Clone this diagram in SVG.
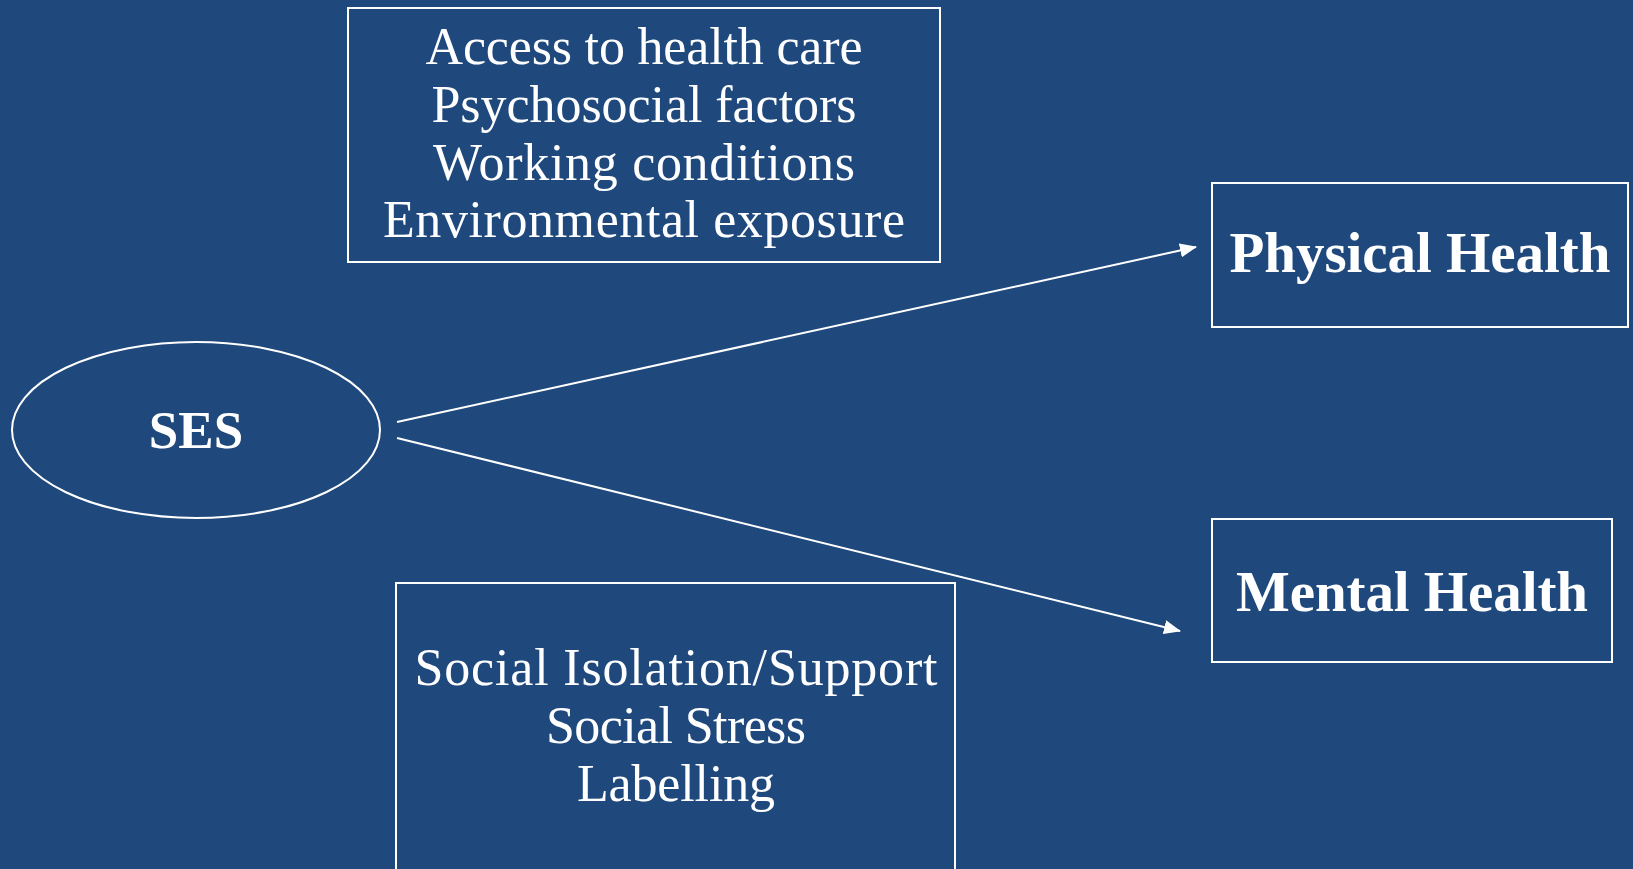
<svg xmlns="http://www.w3.org/2000/svg" width="1633" height="869" viewBox="0 0 1633 869">
<style>
.box{fill:none;stroke:#ffffff;stroke-width:2}
.t{font-family:"Liberation Serif","Times New Roman",serif;font-size:52px;fill:#ffffff;text-anchor:middle}
.b{font-family:"Liberation Serif","Times New Roman",serif;font-size:57px;font-weight:bold;fill:#ffffff;text-anchor:middle}
.s{font-size:53px}
.c{stroke:#ffffff;stroke-width:2;fill:none}
</style>
<defs>
<marker id="ah" markerUnits="userSpaceOnUse" markerWidth="17" markerHeight="14" refX="16" refY="7" orient="auto">
<path d="M0,0 L17,7 L0,14 Z" fill="#ffffff"/>
</marker>
</defs>
<rect width="1633" height="869" fill="#1F497D"/>
<g id="connectors">
<line class="c" x1="397" y1="422" x2="1196" y2="247" marker-end="url(#ah)"/>
<line class="c" x1="397" y1="438" x2="1180" y2="631" marker-end="url(#ah)"/>
</g>
<g id="factors-top">
<rect class="box" x="348" y="8" width="592" height="254"/>
<text class="t" x="644" y="64" textLength="437">Access to health care</text>
<text class="t" x="644" y="122" textLength="425">Psychosocial factors</text>
<text class="t" x="644" y="180" textLength="422">Working conditions</text>
<text class="t" x="644" y="237" textLength="522">Environmental exposure</text>
</g>
<g id="ses">
<ellipse class="box" cx="196" cy="430" rx="184" ry="88"/>
<text class="b s" x="196" y="448">SES</text>
</g>
<g id="physical-health">
<rect class="box" x="1212" y="183" width="416" height="144"/>
<text class="b" x="1420" y="272" textLength="381">Physical Health</text>
</g>
<g id="mental-health">
<rect class="box" x="1212" y="519" width="400" height="143"/>
<text class="b" x="1412" y="611" textLength="352">Mental Health</text>
</g>
<g id="factors-bottom">
<rect class="box" x="396" y="583" width="559" height="300"/>
<text class="t" x="676" y="685" textLength="523">Social Isolation/Support</text>
<text class="t" x="676" y="743" textLength="260">Social Stress</text>
<text class="t" x="676" y="801" textLength="198">Labelling</text>
</g>
</svg>
